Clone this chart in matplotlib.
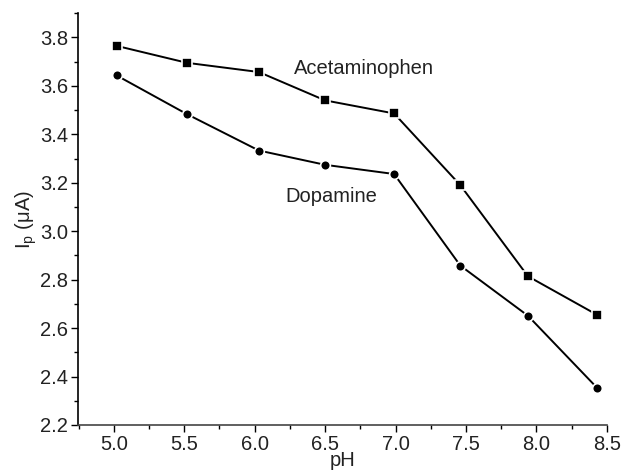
import numpy as np
import matplotlib.pyplot as plt
from matplotlib.ticker import MultipleLocator

plt.rcParams['font.family'] = ['Liberation Sans', 'DejaVu Sans']

# pH values
ph = [5.02, 5.52, 6.03, 6.50, 6.99, 7.46, 7.94, 8.43]
acetaminophen = [3.765, 3.695, 3.657, 3.540, 3.486, 3.190, 2.814, 2.655]
dopamine = [3.643, 3.483, 3.333, 3.274, 3.236, 2.858, 2.651, 2.354]

fig = plt.figure(figsize=(6.23, 4.72), dpi=100)
ax = fig.add_axes([0.125, 0.0996, 0.849, 0.8725])

ax.plot(ph, acetaminophen, color='black', lw=1.4, marker='s', ms=7.5,
        mfc='black', mec='white', mew=1.2)
ax.plot(ph, dopamine, color='black', lw=1.4, marker='o', ms=7,
        mfc='black', mec='white', mew=1.2)

ax.text(6.28, 3.648, 'Acetaminophen', fontsize=14.5, color='#222222')
ax.text(6.216, 3.119, 'Dopamine', fontsize=14.5, color='#222222')

ax.set_xlim(4.745, 8.5)
ax.set_ylim(2.2, 3.9)
ax.xaxis.set_minor_locator(MultipleLocator(0.25))
ax.yaxis.set_minor_locator(MultipleLocator(0.1))
ax.set_xticks(np.arange(5.0, 8.51, 0.5))
ax.set_xticklabels(['%.1f' % v for v in np.arange(5.0, 8.51, 0.5)])
ax.set_yticks(np.arange(2.2, 3.81, 0.2))
ax.set_yticklabels(['%.1f' % v for v in np.arange(2.2, 3.81, 0.2)])

for s in ['top', 'right']:
    ax.spines[s].set_visible(False)
ax.spines['left'].set_linewidth(1.2)
ax.spines['bottom'].set_linewidth(1.2)
ax.spines['bottom'].set_color('#444444')
ax.tick_params(which='major', direction='out', length=5, width=1.0,
               labelsize=14.5, labelcolor='#222222', pad=2)
ax.tick_params(which='minor', direction='out', length=3, width=1.0)

ax.set_xlabel('pH', fontsize=14.5, color='#222222', labelpad=-2)
ax.set_ylabel(r'$\mathregular{I_p}$ ($\mathregular{\mu}$A)', fontsize=14.5,
              color='#222222', labelpad=1)

fig.savefig('out.png', dpi=100)
